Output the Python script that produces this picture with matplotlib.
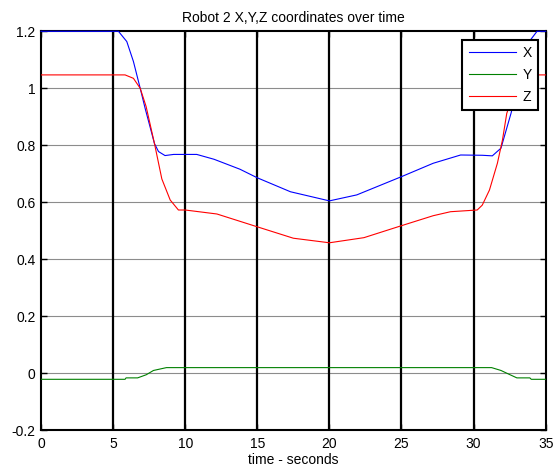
import matplotlib
matplotlib.use("Agg")
import matplotlib.pyplot as plt

plt.rcParams['font.family'] = ['Liberation Sans', 'DejaVu Sans']

# X coordinate (blue)
t_x = [0, 5.37, 5.95, 6.41, 6.88, 7.22, 7.87, 8.15, 8.6, 9.2, 10.8, 12.0, 13.8, 15,
       17.3, 20, 21.9, 25, 27.2, 29.1, 30.6, 31.3, 31.9, 32.6, 33.2, 33.8, 34.4, 35]
x_vals = [1.2, 1.2, 1.164, 1.094, 1.0, 0.93, 0.806, 0.778, 0.764, 0.768, 0.768, 0.751, 0.716, 0.686,
          0.637, 0.605, 0.626, 0.69, 0.737, 0.766, 0.765, 0.763, 0.79, 0.913, 1.04, 1.16, 1.2, 1.2]

# Y coordinate (green)
t_y = [0, 5.83, 5.9, 6.7, 7.3, 7.8, 8.7, 31.25, 31.9, 32.4, 33.0, 33.9, 34.0, 35]
y_vals = [-0.021, -0.021, -0.016, -0.016, -0.005, 0.01, 0.02, 0.02, 0.01, -0.002, -0.016, -0.016,
          -0.021, -0.021]

# Z coordinate (red)
t_z = [0, 5.83, 6.41, 6.88, 7.29, 7.87, 8.38, 8.96, 9.53, 10, 12.2, 15, 17.5, 20, 22.4, 25,
       27.2, 28.4, 30.25, 30.6, 31.1, 31.65, 32.0, 32.3, 32.7, 33.3, 33.9, 35]
z_vals = [1.047, 1.047, 1.035, 1.0, 0.936, 0.806, 0.682, 0.608, 0.573, 0.573, 0.559, 0.514, 0.474,
          0.458, 0.476, 0.518, 0.553, 0.567, 0.573, 0.59, 0.643, 0.737, 0.818, 0.912, 0.97, 1.03,
          1.047, 1.047]

marker_times = [5, 10, 15, 20, 25, 30]
x_ticks = [0, 5, 10, 15, 20, 25, 30, 35]
y_ticks = [-0.2, 0, 0.2, 0.4, 0.6, 0.8, 1.0, 1.2]
y_labels = ['-0.2', '0', '0.2', '0.4', '0.6', '0.8', '1', '1.2']

fig = plt.figure(figsize=(5.57, 4.72), dpi=100)
ax = fig.add_axes([0.0736, 0.0883, 0.9061, 0.8454])

for yv in y_ticks[1:-1]:
    ax.axhline(yv, color='#8c8c8c', lw=0.8, zorder=1)
for tv in marker_times:
    ax.axvline(tv, color='black', lw=1.6, zorder=2)

ax.plot(t_x, x_vals, color='#0000ff', lw=0.8, label='X', zorder=3, clip_on=False)
ax.plot(t_y, y_vals, color='#008000', lw=0.8, label='Y', zorder=3)
ax.plot(t_z, z_vals, color='#ff0000', lw=0.8, label='Z', zorder=3)

ax.set_xlim(0, 35)
ax.set_ylim(-0.2, 1.2)
ax.set_xticks(x_ticks)
ax.set_xticklabels([str(v) for v in x_ticks])
ax.set_yticks(y_ticks)
ax.set_yticklabels(y_labels)
ax.tick_params(direction='in', length=4, width=1, labelsize=10, top=True, right=True)
ax.tick_params(axis='x', pad=5)
ax.tick_params(axis='y', pad=4)
for s in ax.spines.values():
    s.set_linewidth(1.5)
    s.set_zorder(2.5)

ax.set_title('Robot 2 X,Y,Z coordinates over time', fontsize=10, pad=7)
ax.set_xlabel('time - seconds', fontsize=10, labelpad=1)

leg = ax.legend(loc='upper right', bbox_to_anchor=(0.9855, 0.978), fontsize=10, frameon=True,
                fancybox=False, handlelength=3.4, borderpad=0.45, labelspacing=0.55,
                handletextpad=0.5, borderaxespad=0)
leg.get_frame().set_edgecolor('black')
leg.get_frame().set_linewidth(1.5)
leg.get_frame().set_alpha(1)
leg.set_zorder(5)

fig.savefig('out.png', dpi=100)
